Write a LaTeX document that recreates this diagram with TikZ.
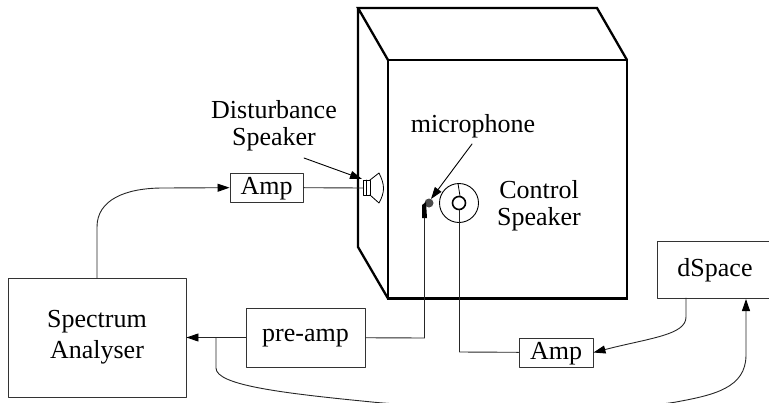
\documentclass[tikz,border=0pt]{standalone}
\usepackage{fontspec}
\setmainfont{Liberation Serif}
\usetikzlibrary{arrows.meta}
\tikzset{
	blockbox/.style={draw=black!80,line width=.9pt,inner sep=0pt,font=\fontsize{26}{31}\selectfont,align=center},
	labeltext/.style={inner sep=0pt,font=\fontsize{26}{27}\selectfont,align=center},
	wire/.style={line width=.9pt,draw=black!85},
	tank/.style={line width=2.3pt,line join=miter},
	lowtext/.style={text depth=3.4pt},
}
\begin{document}
\begin{tikzpicture}[>={Triangle[length=12pt,width=8pt,color=black]},x=1pt,y=-1pt,line join=round,line cap=round]
	\useasboundingbox (0,0) rectangle (769,402);
	\clip (0,0) rectangle (769,402);
	\path
	(388,60)coordinate(A)
	(627,60)coordinate(B)
	(627,298.5)coordinate(C)
	(388,298.5)coordinate(D)
	(358,8)coordinate(E)
	(597,8)coordinate(F)
	(358,247)coordinate(G)
	(459,203)coordinate(conspk)
	(363,188)coordinate(spkin)
	(424.5,218)coordinate(micout)
	(424.5,338)coordinate(micturn)
	(459.5,210)coordinate(conin)
	(459.5,352)coordinate(ampturn)
	(216,338)coordinate(branch)
	(746,299)coordinate(dspin)
	(686,298)coordinate(dspout)
	(97,278)coordinate(specout)
	;
	% box
	\draw[tank] (A)--(B)--(C)--(D)--cycle;
	\draw[tank] (A)--(E)--(F)--(B) (E)--(G)--(D);
	% blocks
	\node[blockbox,minimum width=178pt,minimum height=119pt] (spectrum) at (97,337.5) {Spectrum\\Analyser};
	\node[blockbox,lowtext,minimum width=119pt,minimum height=59pt] (preamp) at (305.5,337.5) {pre-amp};
	\node[blockbox,lowtext,minimum width=73pt,minimum height=29pt] (amptop) at (266.5,187.5) {Amp};
	\node[blockbox,lowtext,minimum width=74pt,minimum height=29pt] (ampbot) at (556,352.5) {Amp};
	\node[blockbox,lowtext,minimum width=116pt,minimum height=57pt] (dspace) at (715,269.5) {dSpace};
	% labels
	\node[labeltext] (dist) at (274,126) {Disturbance\\Speaker};
	\node[labeltext] (mic) at (473,126) {microphone};
	\node[labeltext] (ctrl) at (539,206) {Control\\Speaker};
	% disturbance speaker
	\draw[line width=.8pt] (363,180)--(363,195)--(370,195)--(370,180)--cycle (366,180)--(366,195);
	\draw[line width=.8pt] (370,180)--(379,173) .. controls (385,185) and (385,192) .. (379,203)--(370,195);
	\draw[wire] (amptop)--(spkin);
	\draw[line width=.9pt,->] (304,158)--(362,179);
	% control speaker
	\node[draw,circle,line width=.9pt,minimum size=39pt,inner sep=0pt] (cone) at (conspk) {};
	\node[draw,circle,line width=1.6pt,minimum size=13pt,inner sep=0pt] (dust) at (conspk) {};
	\draw[line width=.8pt] (458,183.5)--(460,196);
	% microphone
	\fill[black!70] (429,203) circle (4.5pt);
	\fill (422,205)--(426,202)--(427,218)--(422,218)--cycle;
	\draw[line width=.9pt,->] (472,144)--(431,199);
	% wires
	\draw[wire] (micout)--(micturn)--(preamp);
	\draw[wire,->] (preamp)--(spectrum);
	\draw[wire] (conin)--(ampturn)--(ampbot);
	\draw[wire,->] (dspout)--(686,317) .. controls (686,335) and (650,338) .. (ampbot.east);
	\draw[wire,->] (branch)--(216,368) .. controls (216,385) and (280,393) .. (372,402) .. controls (430,408) and (620,412) .. (676,402) .. controls (714,395) and (746,388) .. (746,355)--(dspin);
	\draw[wire,->] (specout)--(97,227) .. controls (97,200) and (125,188) .. (163,188)--(amptop);
\end{tikzpicture}
\end{document}
